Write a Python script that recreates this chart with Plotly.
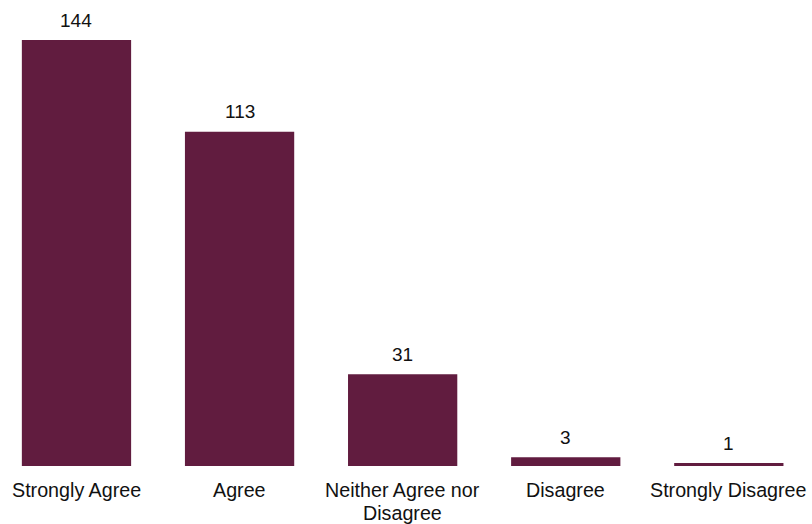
import plotly.graph_objects as go

categories = ["Strongly Agree", "Agree", "Neither Agree nor\nDisagree", "Disagree", "Strongly Disagree"]
values = [144, 113, 31, 3, 1]

FONT = "Liberation Sans, Arial"
xs = list(range(len(categories)))

fig = go.Figure(go.Bar(
    x=xs,
    y=values,
    marker=dict(color="#611C3F", line=dict(width=0)),
    width=0.67,
    hoverinfo="x+y",
))

annotations = []
for x, v in zip(xs, values):
    annotations.append(dict(
        x=x, y=v, xref="x", yref="y", text=str(v), showarrow=False,
        yanchor="middle", yshift=20,
        font=dict(family=FONT, size=19, color="#111111"),
    ))
for x, cat in zip(xs, categories):
    for k, line in enumerate(cat.split("\n")):
        annotations.append(dict(
            x=x, y=0, xref="x", yref="y", text=line, showarrow=False,
            yanchor="middle", yshift=-24 - 22.5 * k,
            font=dict(family=FONT, size=19.7, color="#111111"),
        ))

fig.update_layout(
    width=812, height=524,
    margin=dict(l=0, r=0, t=20, b=58),
    paper_bgcolor="white", plot_bgcolor="white",
    font=dict(family=FONT, size=19, color="#111111"),
    showlegend=False,
    annotations=annotations,
    xaxis=dict(
        range=[-0.469, 4.51],
        visible=False,
    ),
    yaxis=dict(
        range=[0, 150.8],
        visible=False,
    ),
)

fig.write_html(
    "out.html",
    config={"displayModeBar": False},
    post_script="document.body.style.margin='0';document.body.style.overflow='hidden';",
)
